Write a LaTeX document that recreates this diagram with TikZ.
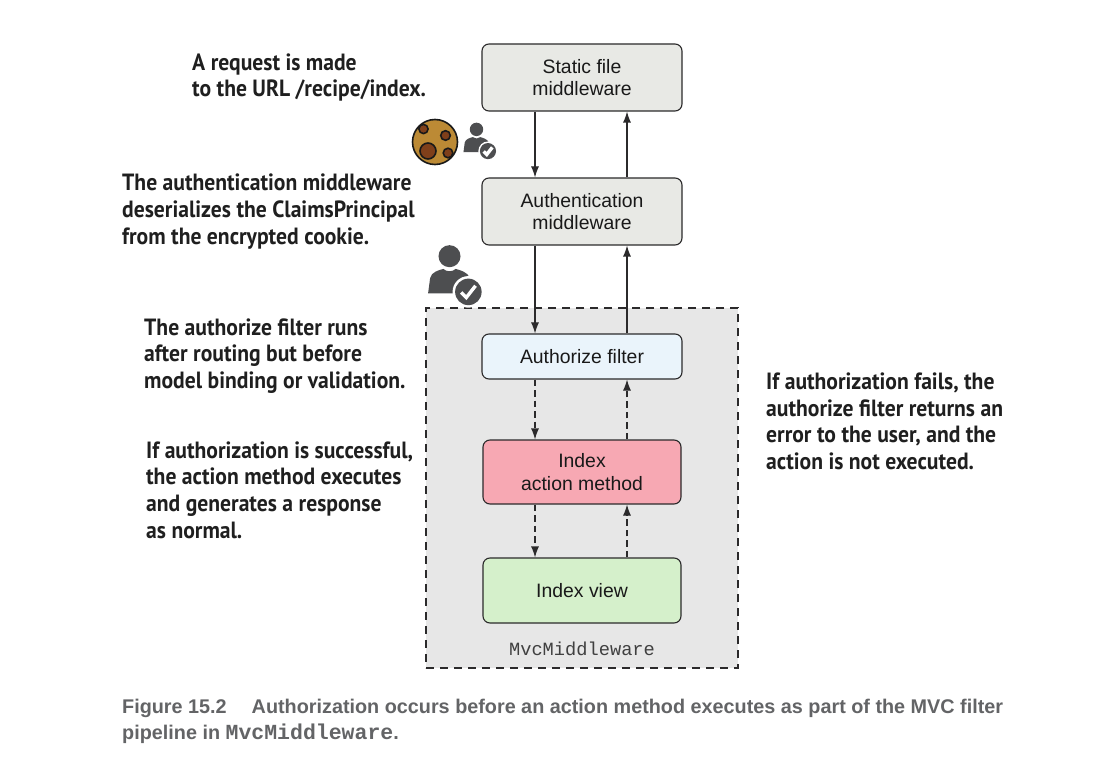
\documentclass[tikz,border=0pt]{standalone}
\usepackage{fontspec}
\setmainfont{Liberation Sans}
\newfontfamily\notefont[FakeStretch=0.92]{PT Sans}
\newfontfamily\capfont{Liberation Sans}
\newfontfamily\codefont{Liberation Mono}
\usetikzlibrary{arrows.meta}
\definecolor{edgec}{HTML}{2B2A2B}
\definecolor{midc}{HTML}{E8E9E5}
\definecolor{filtc}{HTML}{EAF4FB}
\definecolor{actc}{HTML}{F7A8B3}
\definecolor{viewc}{HTML}{D5F0CB}
\definecolor{panelc}{HTML}{E7E7E7}
\definecolor{iconc}{HTML}{4D4E50}
\definecolor{capc}{HTML}{636466}
\definecolor{cookc}{HTML}{BC8A35}
\definecolor{chipc}{HTML}{7F3F1A}
\tikzset{
 x=1pt,y=-1pt,
 flow/.style={draw=edgec,line width=1.1pt,rounded corners=7pt,align=center,inner sep=0pt,
   font=\fontsize{19.4}{22.5}\selectfont,text=black!90},
 note/.style={anchor=west,align=left,inner sep=0pt,text=black!88,
   font=\fontsize{23.5}{26.6}\selectfont\notefont\bfseries},
 link/.style={draw=edgec,line width=1.1pt,-{Latex[length=11pt,width=8pt]}},
 dlink/.style={link,dash pattern=on 6.5pt off 4pt},
 chip/.style={draw=black!90,line width=1.6pt,fill=chipc},
}
\newcommand{\personicon}[2]{%
 \begin{scope}[shift={(#1)},scale=#2]
  \fill[iconc] (-21,21) -- (-19,6) .. controls (-18,0) and (-10,-2) .. (-6,-3)
     .. controls (-3,0) and (3,0) .. (6,-3) .. controls (10,-2) and (18,0) .. (20,6) -- (20,21) -- cycle;
  \fill[white] (0,-15.5) circle (12.8);
  \fill[iconc] (0,-15.5) circle (10.8);
  \fill[white] (18.5,19.5) circle (15.5);
  \fill[iconc] (18.5,19.5) circle (13);
  \draw[white,line width=3.4pt] (11.5,20) -- (16.5,25) -- (25.5,13.5);
 \end{scope}}
\begin{document}
\begin{tikzpicture}
\useasboundingbox (0,0) rectangle (1114,759);
\fill[white] (0,0) rectangle (1114,759);
\node[draw=edgec,fill=panelc,line width=1.2pt,dash pattern=on 8pt off 6pt,minimum width=312pt,minimum height=360pt,inner sep=0pt] (panel) at (582,488) {};
\coordinate (dn) at (535,0);
\coordinate (up) at (627,0);
\node[flow,fill=midc,minimum width=200pt,minimum height=67pt] (static) at (582,77.5) {Static file\\middleware};
\node[flow,fill=midc,minimum width=200pt,minimum height=67pt] (authn) at (582,211.5) {Authentication\\middleware};
\node[flow,fill=filtc,minimum width=200pt,minimum height=45pt] (authz) at (582,356.5) {Authorize filter};
\node[flow,fill=actc,minimum width=198pt,minimum height=64pt] (action) at (582,472) {Index\\action method};
\node[flow,fill=viewc,minimum width=198pt,minimum height=65pt] (view) at (582,590.5) {Index view};
\draw[link] (static.south -| dn) -- (authn.north -| dn);
\draw[link] (authn.north -| up) -- (static.south -| up);
\draw[link] (authn.south -| dn) -- (authz.north -| dn);
\draw[link] (authz.north -| up) -- (authn.south -| up);
\draw[dlink] (authz.south -| dn) -- (action.north -| dn);
\draw[dlink] (action.north -| up) -- (authz.south -| up);
\draw[dlink] (action.south -| dn) -- (view.north -| dn);
\draw[dlink] (view.north -| up) -- (action.south -| up);
\node[inner sep=0pt,text=black!75,font=\fontsize{18.7}{20}\selectfont\codefont] (mvc) at (582,649) {MvcMiddleware};
\node[note] (n1) at (192,77.5) {A request is made\\to the URL /recipe/index.};
\node[note] (n2) at (122,211.5) {The authentication middleware\\deserializes the ClaimsPrincipal\\from the encrypted cookie.};
\node[note] (n3) at (144,356) {The authorize filter runs\\after routing but before\\model binding or validation.};
\node[note] (n4) at (146,490) {If authorization is successful,\\the action method executes\\and generates a response\\as normal.};
\node[note] (n5) at (766,421.5) {If authorization fails, the\\authorize filter returns an\\error to the user, and the\\action is not executed.};
% cookie
\fill[cookc,draw=black!90,line width=1.6pt] (435,142) circle (22.5);
\draw[chip] (423.5,129) circle (4.6);
\draw[chip] (445.5,135.5) circle (4.8);
\draw[chip] (428,151) circle (8);
\draw[chip] (448,153) circle (4.8);
\personicon{476.5,139}{0.62}
\personicon{449.5,272}{1.02}
\node[anchor=west,inner sep=0pt,align=left,text=capc,font=\fontsize{19.8}{26.5}\selectfont\capfont\bfseries] (cap) at (122,721.5) {Figure 15.2\hspace{25pt}Authorization occurs before an action method executes as part of the MVC filter\\pipeline in {\codefont\fontsize{21.5}{26.5}\selectfont MvcMiddleware}.};
\end{tikzpicture}
\end{document}
